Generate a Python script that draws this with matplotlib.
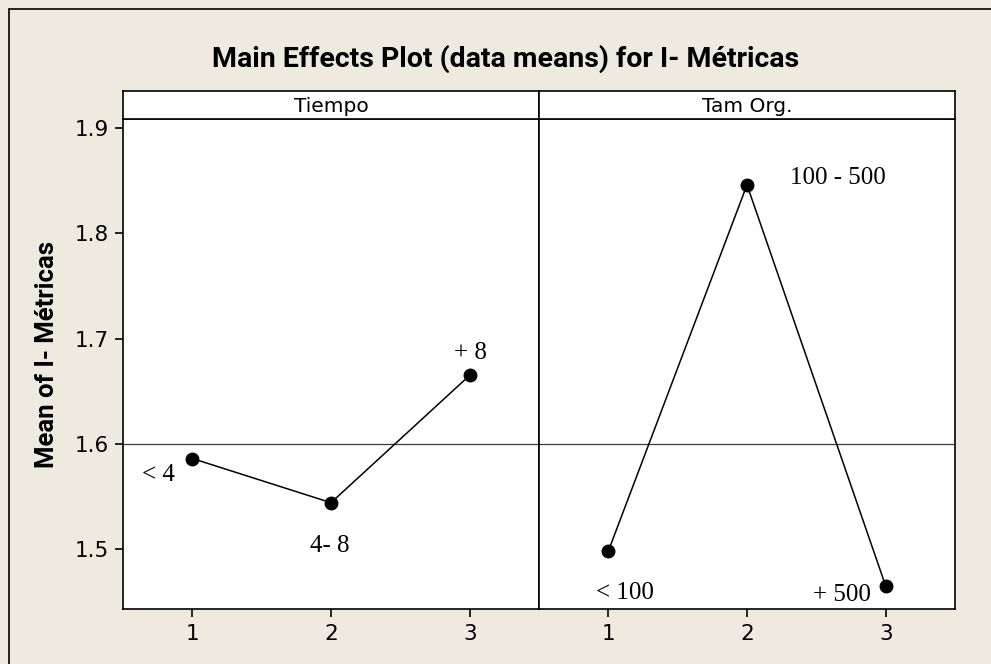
import matplotlib
matplotlib.use("Agg")
import matplotlib.pyplot as plt
from matplotlib.patches import Rectangle

# Factor levels and data means of I- Métricas
factors = ["Tiempo", "Tam Org."]
levels = [1, 2, 3]
tiempo_means = [1.586, 1.544, 1.665]
tamorg_means = [1.498, 1.846, 1.465]
tiempo_labels = ["< 4", "4- 8", "+ 8"]
tamorg_labels = ["< 100", "100 - 500", "+ 500"]
grand_mean = 1.600
yticks = [1.5, 1.6, 1.7, 1.8, 1.9]

W, H = 991, 664
BG = "#EEEAE0"
fig = plt.figure(figsize=(W / 100, H / 100), dpi=100, facecolor=BG)

def fx(px):
    return px / W

def fy(py):
    return 1 - py / H

# outer frame (only top and left edges fall inside the canvas)
fig.patches.append(Rectangle((fx(9), fy(H + 20)), 1.2, (H + 11) / H,
                             transform=fig.transFigure, fill=False,
                             edgecolor="#111111", linewidth=1.3, clip_on=False))

left, mid, right = 123, 539, 955
top_hdr, top_plot, bottom = 91, 119, 609

series = [tiempo_means, tamorg_means]
labels = [tiempo_labels, tamorg_labels]
# label placement relative to each point, in pixels
offsets = [
    [(-34, -16), (-1, -43), (1, 22)],
    [(17, -42), (91, 7), (-44, -9)],
]

lw_frame = 1.2
for i, (x0, x1) in enumerate([(left, mid), (mid, right)]):
    ax = fig.add_axes([fx(x0), fy(bottom), fx(x1 - x0), (bottom - top_plot) / H])
    ax.set_facecolor("white")
    ax.set_xlim(0.5, 3.5)
    ax.set_ylim(1.443, 1.9086)
    ax.axhline(grand_mean, color="#3c3c3c", linewidth=0.9, zorder=1)
    ax.plot(levels, series[i], color="black", linewidth=1.1, marker="o",
            markersize=9, zorder=3)
    for lv, val, lab, (dx, dy) in zip(levels, series[i], labels[i], offsets[i]):
        ax.annotate(lab, (lv, val), xytext=(dx, dy), textcoords="offset pixels",
                    ha="center", va="center", fontsize=18,
                    family="Liberation Serif", color="black")
    for s in ax.spines.values():
        s.set_linewidth(lw_frame)
        s.set_color("black")
    ax.set_xticks(levels)
    ax.set_xticklabels([str(v) for v in levels])
    ax.tick_params(axis="x", direction="out", length=6, width=1.2, pad=5,
                   labelsize=15.5, colors="black")
    if i == 0:
        ax.set_yticks(yticks)
        ax.set_yticklabels([f"{v:.1f}" for v in yticks])
        ax.tick_params(axis="y", direction="out", length=6, width=1.2, pad=4,
                       labelsize=15.5, colors="black")
    else:
        ax.set_yticks([])

    # panel header strip
    hx = fig.add_axes([fx(x0), fy(top_plot), fx(x1 - x0), (top_plot - top_hdr) / H])
    hx.set_facecolor("white")
    hx.set_xticks([])
    hx.set_yticks([])
    for s in hx.spines.values():
        s.set_linewidth(lw_frame)
        s.set_color("black")
    hx.text(0.5, 0.45, factors[i], ha="center", va="center", fontsize=14.5,
            transform=hx.transAxes)

fig.text(fx(506), fy(67), "Main Effects Plot (data means) for I- Métricas",
         ha="center", va="baseline", fontsize=20.5, fontweight="bold",
         family="Roboto")
fig.text(fx(47), fy(354), "Mean of I- Métricas", ha="center", va="center",
         rotation=90, fontsize=18.5, fontweight="bold", family="Roboto")

fig.savefig("out.png", dpi=100, facecolor=BG)
